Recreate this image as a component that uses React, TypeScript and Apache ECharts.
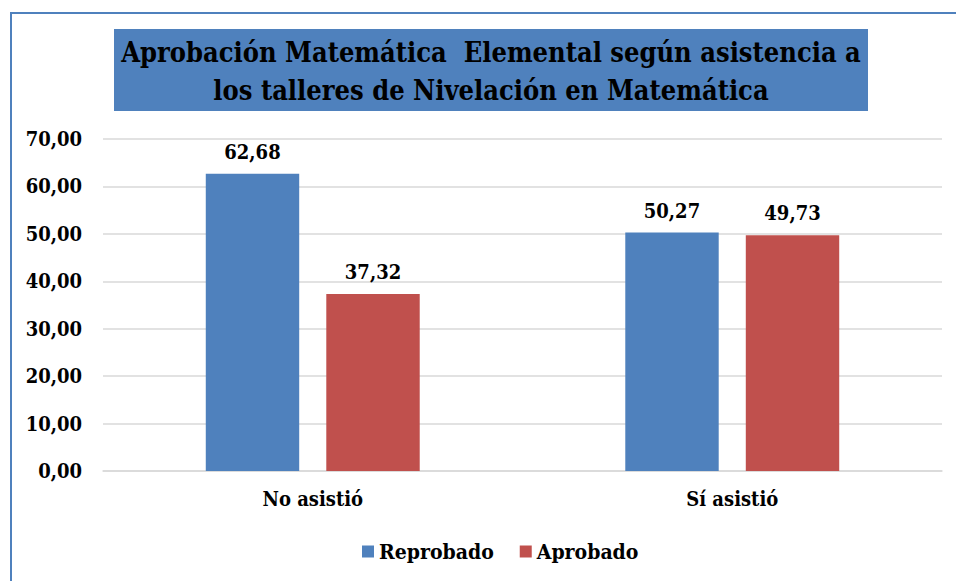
import React, { useEffect, useRef } from "react";
import * as echarts from "echarts";

const categories = ["No asistió", "Sí asistió"];
const reprobado = [62.68, 50.27];
const aprobado = [37.32, 49.73];
const seriesNames = ["Reprobado", "Aprobado"];
const titleLines = [
  "Aprobación Matemática  Elemental según asistencia a",
  "los talleres de Nivelación en Matemática",
];

const FONT = "DejaVu Serif Condensed";
const BLUE = "#4F81BD";
const RED = "#C0504D";

const fmt = (v: number) => v.toFixed(2).replace(".", ",");

export default function App() {
  const ref = useRef<HTMLDivElement>(null);
  useEffect(() => {
    if (!ref.current) return;
    const chart = echarts.init(ref.current, undefined, { renderer: "svg" });
    const labelStyle = {
      show: true,
      position: "top" as const,
      distance: 12,
      fontFamily: FONT,
      fontWeight: "bold" as const,
      fontSize: 20,
      color: "#000",
      formatter: (p: any) => fmt(p.value),
    };
    chart.setOption({
      animation: false,
      backgroundColor: "#fff",
      textStyle: { fontFamily: FONT },
      grid: { left: 103, right: 14, top: 139, bottom: 110 },
      xAxis: {
        type: "category",
        data: categories,
        axisLine: { lineStyle: { color: "#D9D9D9", width: 1.5 } },
        axisTick: { show: false },
        axisLabel: {
          margin: 18,
          fontFamily: FONT,
          fontWeight: "bold",
          fontSize: 20,
          color: "#000",
        },
      },
      yAxis: {
        type: "value",
        min: 0,
        max: 70,
        interval: 10,
        axisLine: { show: false },
        axisTick: { show: false },
        splitLine: { lineStyle: { color: "#D9D9D9", width: 1.5 } },
        axisLabel: {
          margin: 21,
          fontFamily: FONT,
          fontWeight: "bold",
          fontSize: 20,
          color: "#000",
          formatter: (v: number) => fmt(v),
        },
      },
      legend: {
        data: seriesNames,
        bottom: 14,
        left: 357,
        itemWidth: 12,
        itemHeight: 12,
        itemGap: 26,
        icon: "rect",
        textStyle: {
          fontFamily: FONT,
          fontWeight: "bold",
          fontSize: 21,
          color: "#000",
        },
      },
      series: [
        {
          name: seriesNames[0],
          type: "bar",
          data: reprobado,
          itemStyle: { color: BLUE },
          barGap: "29%",
          barCategoryGap: "49%",
          label: labelStyle,
        },
        {
          name: seriesNames[1],
          type: "bar",
          data: aprobado,
          itemStyle: { color: RED },
          label: labelStyle,
        },
      ],
      graphic: [
        {
          type: "rect",
          shape: { x: 11, y: 13, width: 970, height: 600 },
          style: { fill: "none", stroke: BLUE, lineWidth: 2 },
        },
        {
          type: "rect",
          shape: { x: 114, y: 29, width: 754, height: 82 },
          style: { fill: BLUE },
        },
        {
          type: "text",
          x: 491,
          y: 52,
          style: {
            text: titleLines[0],
            fontFamily: FONT,
            fontWeight: "bold",
            fontSize: 27,
            fill: "#000",
            align: "center",
            verticalAlign: "middle",
          },
        },
        {
          type: "text",
          x: 491,
          y: 90,
          style: {
            text: titleLines[1],
            fontFamily: FONT,
            fontWeight: "bold",
            fontSize: 27,
            fill: "#000",
            align: "center",
            verticalAlign: "middle",
          },
        },
      ],
    });
    return () => chart.dispose();
  }, []);
  return (
    <div
      ref={ref}
      style={{ position: "fixed", left: 0, top: 0, width: 956, height: 581 }}
    />
  );
}
